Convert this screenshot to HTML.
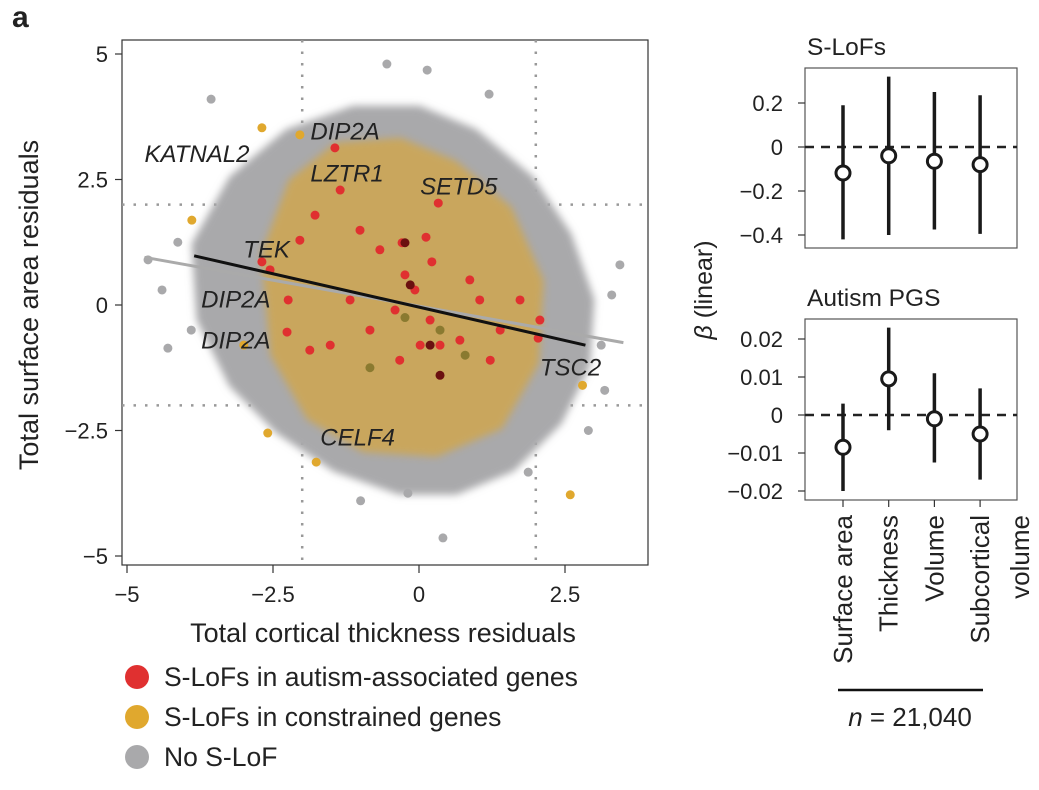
<!DOCTYPE html>
<html><head><meta charset="utf-8"><style>
body{margin:0;background:#fff;}
svg text{font-family:"Liberation Sans",sans-serif;fill:#222;}
</style></head><body>
<svg id="fig" width="1039" height="785" viewBox="0 0 1039 785" xmlns="http://www.w3.org/2000/svg">
<defs><filter id="blur" x="-10%" y="-10%" width="120%" height="120%"><feGaussianBlur stdDeviation="4"/></filter></defs>
<text x="12" y="27" font-size="30" font-weight="bold">a</text>
<g id="scatter"></g>
<g id="right"></g>
</svg>
<script>
// ---------- scatter data (data units) ----------
const xTicks=[-5,-2.5,0,2.5];
const yTicks=[5,2.5,0,-2.5,-5];
const xTickLabels=["−5","−2.5","0","2.5"];
const yTickLabels=["5","2.5","0","−2.5","−5"];
const grayHull=[[-4.09,1.29],[-3.41,2.69],[-2.38,3.69],[-1.18,4.18],[0.02,4.18],[1.04,3.69],[2.07,2.69],[2.76,1.49],[3.18,0.1],[3.1,-1.29],[2.59,-2.49],[1.73,-3.49],[0.7,-3.98],[-0.33,-3.98],[-1.52,-3.49],[-2.55,-2.69],[-3.41,-1.69],[-4.0,-0.3]];
const orangeHull=[[-2.89,1.1],[-2.38,2.69],[-1.52,3.49],[-0.33,3.59],[0.70,3.09],[1.73,2.09],[2.33,0.5],[2.24,-1.29],[1.56,-2.69],[0.36,-3.29],[-1.01,-3.19],[-2.04,-2.49],[-2.72,-1.1]];
const grayPoints=[[-3.56,4.1],[-0.55,4.8],[0.14,4.68],[-4.64,0.9],[-4.3,-0.86],[-0.19,-3.75],[0.41,-4.64],[3.44,0.8],[3.12,-0.8],[-4.13,1.25],[1.87,-3.33],[3.18,-1.7],[-4.4,0.3],[3.3,0.2],[-3.9,-0.5],[2.9,-2.5],[-1.0,-3.9],[1.2,4.2]];
const orangePoints=[[-2.69,3.53],[-3.89,1.69],[-2.59,-2.55],[2.59,-3.78],[-1.76,-3.13],[-2.04,3.39],[-3.0,-0.8],[2.8,-1.6]];
const redPoints=[[-1.44,3.13],[-1.35,2.29],[0.33,2.03],[-2.69,0.86],[-2.55,0.7],[-2.24,0.1],[-2.26,-0.54],[-1.78,1.79],[-0.29,1.24],[0.12,1.35],[0.22,0.86],[-0.24,0.6],[-0.07,0.3],[-0.41,-0.1],[0.19,-0.3],[0.36,-0.8],[0.87,0.5],[1.04,0.1],[0.7,-0.7],[1.22,-1.1],[-1.18,0.1],[-0.84,-0.5],[-1.52,-0.8],[-1.87,-0.9],[-0.67,1.1],[1.39,-0.5],[-1.01,1.49],[-2.04,1.29],[1.73,0.1],[2.07,-0.3],[-0.33,-1.1],[0.02,-0.8],[2.04,-0.66]];
const darkRedPoints=[[-0.24,1.24],[-0.15,0.4],[0.19,-0.8],[0.36,-1.4]];
const olivePoints=[[0.36,-0.5],[0.79,-1.0],[-0.84,-1.25],[-0.24,-0.25]];
const fitBlack=[[-3.85,0.98],[2.85,-0.8]];
const fitGray=[[-4.7,0.95],[3.5,-0.75]];
const geneNames=["KATNAL2","DIP2A","LZTR1","SETD5","TEK","DIP2A","DIP2A","TSC2","CELF4"];
const geneX=[-4.7,-1.86,-1.86,0.02,-3.01,-3.73,-3.73,2.07,-1.69];
const geneY=[2.85,3.3,2.46,2.2,0.95,-0.05,-0.87,-1.4,-2.8];

const NS="http://www.w3.org/2000/svg";
function mk(tag,attrs,parent){const e=document.createElementNS(NS,tag);for(const k in attrs)e.setAttribute(k,attrs[k]);parent.appendChild(e);return e;}
const sx=v=>419+v*58.4, sy=v=>305-v*50.2;
const S=document.getElementById('scatter');
const L=122,R=648,T=40,B=565;
let e;
e=mk('rect',{x:L,y:T,width:R-L,height:B-T,fill:'none',stroke:'#333','stroke-width':1.2},S);


[-2,2].forEach(v=>{e=mk('line',{x1:sx(v),x2:sx(v),y1:T,y2:B,stroke:'#999','stroke-width':2.5,'stroke-dasharray':'2.5 9'},S);


e=mk('line',{x1:L,x2:R,y1:sy(v),y2:sy(v),stroke:'#999','stroke-width':2.5,'stroke-dasharray':'2.5 9'},S);

});
function hull(pts,fill,op,name,k){
const cx=pts.reduce((a,p)=>a+sx(p[0]),0)/pts.length, cy=pts.reduce((a,p)=>a+sy(p[1]),0)/pts.length;
const d=pts.map((p,i)=>(i?'L':'M')+(cx+(sx(p[0])-cx)*k)+','+(cy+(sy(p[1])-cy)*k)).join('')+'Z';
e=mk('path',{d:d,fill:fill,opacity:op,stroke:fill,'stroke-width':8,'stroke-linejoin':'round',filter:'url(#blur)'},S);

}
hull(grayHull,'#a9a9ab',1,'no-slof-cloud',0.93);
hull(orangeHull,'#d6a640',0.72,'constrained-cloud',0.9);
function dots(pts,fill,name){pts.forEach(p=>{e=mk('circle',{cx:sx(p[0]),cy:sy(p[1]),r:4.5,fill:fill},S);

});}
dots(grayPoints,'#a9a9ab','no-slof-point');
dots(orangePoints,'#e0a82e','constrained-point');
dots(redPoints,'#e03030','autism-gene-point');
dots(darkRedPoints,'#6b1010','autism-gene-point-overlap');
dots(olivePoints,'#8a7a30','overlap-point');
e=mk('line',{x1:sx(fitGray[0][0]),y1:sy(fitGray[0][1]),x2:sx(fitGray[1][0]),y2:sy(fitGray[1][1]),stroke:'#aaa','stroke-width':3},S);


e=mk('line',{x1:sx(fitBlack[0][0]),y1:sy(fitBlack[0][1]),x2:sx(fitBlack[1][0]),y2:sy(fitBlack[1][1]),stroke:'#111','stroke-width':3},S);


geneNames.forEach((g,i)=>{e=mk('text',{x:sx(geneX[i]),y:sy(geneY[i]),'font-size':24,'font-style':'italic'},S);e.textContent=g;

});
xTicks.forEach((v,i)=>{e=mk('line',{x1:sx(v),x2:sx(v),y1:B,y2:B+8,stroke:'#333','stroke-width':1.2},S);


e=mk('text',{x:sx(v),y:B+37,'font-size':22,'text-anchor':'middle'},S);e.textContent=xTickLabels[i];

});
yTicks.forEach((v,i)=>{e=mk('line',{x1:L-7,x2:L,y1:sy(v),y2:sy(v),stroke:'#333','stroke-width':1.2},S);


e=mk('text',{x:L-14,y:sy(v)+8,'font-size':22,'text-anchor':'end'},S);e.textContent=yTickLabels[i];

});
e=mk('text',{x:383,y:642,'font-size':27,'text-anchor':'middle'},S);e.textContent='Total cortical thickness residuals';


e=mk('text',{x:0,y:0,'font-size':27,'text-anchor':'middle',transform:'translate(38,305) rotate(-90)'},S);e.textContent='Total surface area residuals';


const legendLabels=["S-LoFs in autism-associated genes","S-LoFs in constrained genes","No S-LoF"];
const legendColors=['#e03030','#e0a82e','#a9a9ab'];
legendLabels.forEach((t,i)=>{const y=677+i*40;
e=mk('circle',{cx:137,cy:y,r:12,fill:legendColors[i]},S);


e=mk('text',{x:164,y:y+9,'font-size':26.5},S);e.textContent=t;

});

// ---------- right panels ----------
const categories=["Surface area","Thickness","Volume","Subcortical volume"];
const slofBeta=[-0.118,-0.04,-0.065,-0.08];
const slofLo=[-0.42,-0.40,-0.375,-0.395];
const slofHi=[0.19,0.32,0.25,0.235];
const slofTicks=[0.2,0,-0.2,-0.4];
const slofTickLabels=["0.2","0","−0.2","−0.4"];
const pgsBeta=[-0.0085,0.0095,-0.001,-0.005];
const pgsLo=[-0.02,-0.004,-0.0125,-0.017];
const pgsHi=[0.003,0.023,0.011,0.007];
const pgsTicks=[0.02,0.01,0,-0.01,-0.02];
const pgsTickLabels=["0.02","0.01","0","−0.01","−0.02"];
const G=document.getElementById('right');
const catX=i=>843+i*45.7;
function panel(top,bot,zero,scale,beta,lo,hi,ticks,labels,title,name){
 const ys=v=>zero-v*scale;
 e=mk('rect',{x:805,y:top,width:212,height:bot-top,fill:'none',stroke:'#555','stroke-width':1.2},G);
 
 
 e=mk('text',{x:807,y:top-13,'font-size':24.5},G);e.textContent=title;
 
 
 ticks.forEach((v,i)=>{e=mk('line',{x1:798,x2:805,y1:ys(v),y2:ys(v),stroke:'#333','stroke-width':1.2},G);
 
 
 e=mk('text',{x:783,y:ys(v)+8,'font-size':22,'text-anchor':'end'},G);e.textContent=labels[i];
 
 });
 e=mk('line',{x1:805,x2:1017,y1:ys(0),y2:ys(0),stroke:'#222','stroke-width':2.5,'stroke-dasharray':'9 7'},G);
 
 
 beta.forEach((b,i)=>{e=mk('line',{x1:catX(i),x2:catX(i),y1:ys(lo[i]),y2:ys(hi[i]),stroke:'#1a1a1a','stroke-width':3.5},G);
 
 
 e=mk('circle',{cx:catX(i),cy:ys(b),r:7,fill:'#fff',stroke:'#1a1a1a','stroke-width':3},G);
 
 });
}
panel(68,248,147,220,slofBeta,slofLo,slofHi,slofTicks,slofTickLabels,'S-LoFs','slofs-panel');
panel(319,500,415,3800,pgsBeta,pgsLo,pgsHi,pgsTicks,pgsTickLabels,'Autism PGS','pgs-panel');
categories.forEach((c,i)=>{e=mk('line',{x1:catX(i),x2:catX(i),y1:500,y2:507,stroke:'#333','stroke-width':1.2},G);


const parts=c==="Subcortical volume"?["Subcortical","volume"]:[c];
parts.forEach((p,j)=>{e=mk('text',{x:0,y:0,'font-size':26,'text-anchor':'end',transform:`translate(${catX(i)+9+j*40},515) rotate(-90)`},G);e.textContent=p;

});});
e=mk('text',{x:0,y:0,'font-size':25,'text-anchor':'middle',transform:'translate(712,290) rotate(-90)'},G);
e.innerHTML='<tspan font-style="italic">β</tspan> (linear)';


e=mk('line',{x1:838,x2:983,y1:690,y2:690,stroke:'#111','stroke-width':2.5},G);


e=mk('text',{x:910,y:726,'font-size':26,'text-anchor':'middle'},G);
e.innerHTML='<tspan font-style="italic">n</tspan> = 21,040';


</script>
</body></html>
